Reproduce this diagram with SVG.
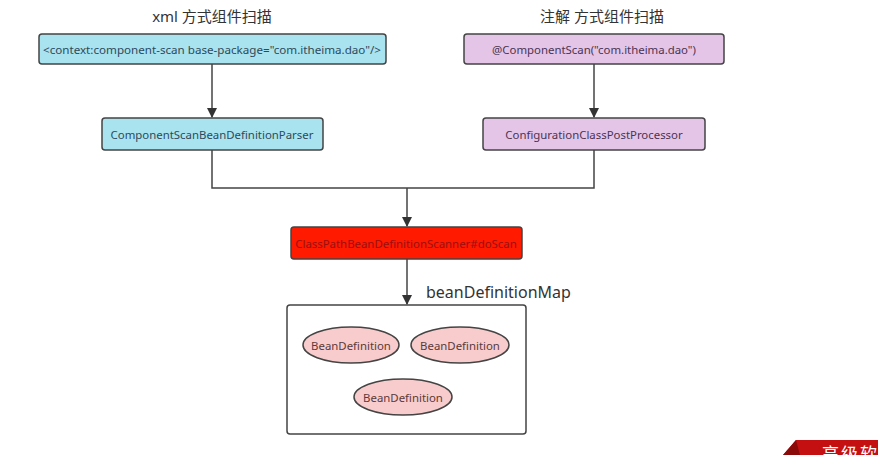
<svg xmlns="http://www.w3.org/2000/svg" width="878" height="455" viewBox="0 0 878 455">
<defs>
<marker id="arr" markerWidth="10" markerHeight="10" refX="9" refY="5" orient="auto" markerUnits="userSpaceOnUse">
<path d="M0,0 L10,5 L0,10 Z" fill="#333"/>
</marker>
<clipPath id="wm"><rect x="0" y="0" width="878" height="455"/></clipPath>
</defs>
<style>
.t{font-family:"Noto Sans","Liberation Sans","Noto Sans CJK SC",sans-serif;}
.title{font-size:15px;fill:#333;}
.box{stroke:#444;stroke-width:1.5;}
.blue{fill:#a9e3ef;}
.purple{fill:#e4c5e8;}
.lbl{font-size:11.4px;text-anchor:middle;dominant-baseline:central;}
.conn{fill:none;stroke:#444;stroke-width:1.5;}
.ell{fill:#f8cccc;stroke:#444;stroke-width:1.5;}
</style>
<rect width="878" height="455" fill="#fff"/>
<text class="t title" x="212" y="22" text-anchor="middle">xml 方式组件扫描</text>
<text class="t title" x="602" y="22" text-anchor="middle">注解 方式组件扫描</text>

<g id="xml-scan">
<rect class="box blue" x="39" y="34" width="347" height="30" rx="3"/>
<text class="t lbl" x="212" y="49" fill="#2d4a5c" textLength="338" lengthAdjust="spacingAndGlyphs">&lt;context:component-scan base-package="com.itheima.dao"/&gt;</text>
</g>
<g id="parser">
<rect class="box blue" x="102" y="118" width="221" height="32" rx="3"/>
<text class="t lbl" x="212" y="134" fill="#2d4a5c">ComponentScanBeanDefinitionParser</text>
</g>
<g id="anno-scan">
<rect class="box purple" x="464" y="34" width="260" height="30" rx="3"/>
<text class="t lbl" x="594" y="49" fill="#4a3452">@ComponentScan("com.itheima.dao")</text>
</g>
<g id="processor">
<rect class="box purple" x="483" y="118" width="222" height="32" rx="3"/>
<text class="t lbl" x="594" y="134" fill="#4a3452">ConfigurationClassPostProcessor</text>
</g>
<g id="scanner">
<rect class="box" x="291" y="227" width="231" height="32" rx="3" fill="#ff1a00"/>
<text class="t lbl" x="406" y="243" fill="#9a1010">ClassPathBeanDefinitionScanner#doScan</text>
</g>
<g id="bean-map">
<rect class="box" x="287" y="305" width="239" height="129" rx="3" fill="#fff"/>
<text class="t" x="426" y="298" font-size="16" fill="#333">beanDefinitionMap</text>
</g>
<g id="bd1">
<ellipse class="ell" cx="351" cy="345" rx="48" ry="18"/>
<text class="t lbl" x="351" y="345" fill="#5a3a3a">BeanDefinition</text>
</g>
<g id="bd2">
<ellipse class="ell" cx="460" cy="345" rx="49" ry="18"/>
<text class="t lbl" x="460" y="345" fill="#5a3a3a">BeanDefinition</text>
</g>
<g id="bd3">
<ellipse class="ell" cx="403" cy="397" rx="49" ry="18"/>
<text class="t lbl" x="403" y="397" fill="#5a3a3a">BeanDefinition</text>
</g>

<g id="connectors">
<path class="conn" d="M212,64 V117" marker-end="url(#arr)"/>
<path class="conn" d="M594,64 V117" marker-end="url(#arr)"/>
<path class="conn" d="M212,150 V188 H594 V150"/>
<path class="conn" d="M407,188 V226" marker-end="url(#arr)"/>
<path class="conn" d="M407,259 V304" marker-end="url(#arr)"/>
</g>

<g id="watermark" clip-path="url(#wm)">
<path d="M796,440 H878 V455 H783 Z" fill="#c41010"/>
<path d="M796,440 L783,455 H800 Z" fill="#8a0a0a"/>
<text x="822" y="460" font-family="Noto Sans CJK SC,sans-serif" font-size="17" fill="#fff" letter-spacing="2">高级软</text>
</g>
</svg>
